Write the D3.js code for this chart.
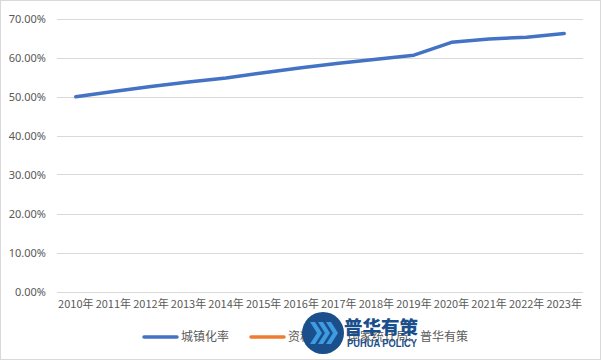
<!DOCTYPE html>
<html><head><meta charset="utf-8">
<script src="https://cdn.jsdelivr.net/npm/d3@7"></script>
<style>body{margin:0;background:#fff}svg{display:block}text{font-family:"Noto Sans CJK SC","Noto Sans",sans-serif}</style>
</head><body><svg id="c" width="601" height="360"></svg>
<script>
const years = ["2010年","2011年","2012年","2013年","2014年","2015年","2016年","2017年","2018年","2019年","2020年","2021年","2022年","2023年"];
const urbanRate = [49.95,51.27,52.57,53.73,54.77,56.10,57.35,58.52,59.58,60.60,63.89,64.72,65.22,66.16];
const yTicks = [0,10,20,30,40,50,60,70];
const seriesNames = ["城镇化率","资料来源：国家统计局、普华有策"];
const seriesColors = ["#4472C4","#ED7D31"];

const svg = d3.select("#c");
svg.append("rect").attr("x",0.5).attr("y",0.5).attr("width",600).attr("height",359)
  .attr("fill","#fff").attr("stroke","#d9d9d9");

const x = d3.scaleBand().domain(years).range([57,583]);
const y = d3.scaleLinear().domain([0,70]).range([291.5,18.5]);

// gridlines
svg.append("g").selectAll("line").data(yTicks).join("line")
  .attr("x1",57).attr("x2",583).attr("y1",d=>Math.round(y(d))+0.5).attr("y2",d=>Math.round(y(d))+0.5)
  .attr("stroke","#d9d9d9").attr("stroke-width",1);

// y axis labels
const ya = svg.append("g").attr("transform","translate(57,0)")
  .call(d3.axisLeft(y).tickValues(yTicks).tickSize(0).tickPadding(11).tickFormat(d=>d.toFixed(2)+"%"));
ya.select(".domain").remove();
ya.selectAll("text").attr("fill","#595959").style("font-size","11px").style("font-family","'Noto Sans','Noto Sans CJK SC',sans-serif");

// x axis labels
const xa = svg.append("g").attr("transform","translate(0,292)")
  .call(d3.axisBottom(x).tickSize(0).tickPadding(8));
xa.select(".domain").remove();
xa.selectAll("text").attr("fill","#595959").style("font-size","11px");

// line
const line = d3.line().x((d,i)=>x(years[i])+x.bandwidth()/2).y(d=>y(d));
svg.append("path").datum(urbanRate).attr("d",line).attr("fill","none")
  .attr("stroke",seriesColors[0]).attr("stroke-width",3.5).attr("stroke-linejoin","round").attr("stroke-linecap","round");

// legend
const lg = [{x:144},{x:251}];
seriesNames.forEach((n,i)=>{
  svg.append("line").attr("x1",lg[i].x).attr("x2",lg[i].x+33).attr("y1",337).attr("y2",337)
    .attr("stroke",seriesColors[i]).attr("stroke-width",3.5).attr("stroke-linecap","round");
  svg.append("text").attr("x",lg[i].x+37).attr("y",341).attr("fill","#595959").style("font-size","12px").text(n);
});

// watermark logo
const logo = svg.append("g");
logo.append("circle").attr("cx",323).attr("cy",333).attr("r",21).attr("fill","#1a4f8b");
[-9,-1,7].forEach(dx=>{
  logo.append("path").attr("d",`M${323+dx-4},${322} L${323+dx+3},${333} L${323+dx-4},${344} L${323+dx+1},${344} L${323+dx+8},${333} L${323+dx+1},${322} Z`)
    .attr("fill","#3d9be0");
});
logo.append("text").attr("x",344).attr("y",334).attr("fill","#1a4f8b").style("font-size","18.5px").style("font-weight","900").text("普华有策");
logo.append("text").attr("x",347).attr("y",347).attr("fill","#1a4f8b").attr("textLength",70).attr("lengthAdjust","spacingAndGlyphs")
  .style("font-size","11px").style("font-weight","bold").style("font-family","'Liberation Sans',sans-serif").text("PUHUA POLICY");
</script></body></html>
